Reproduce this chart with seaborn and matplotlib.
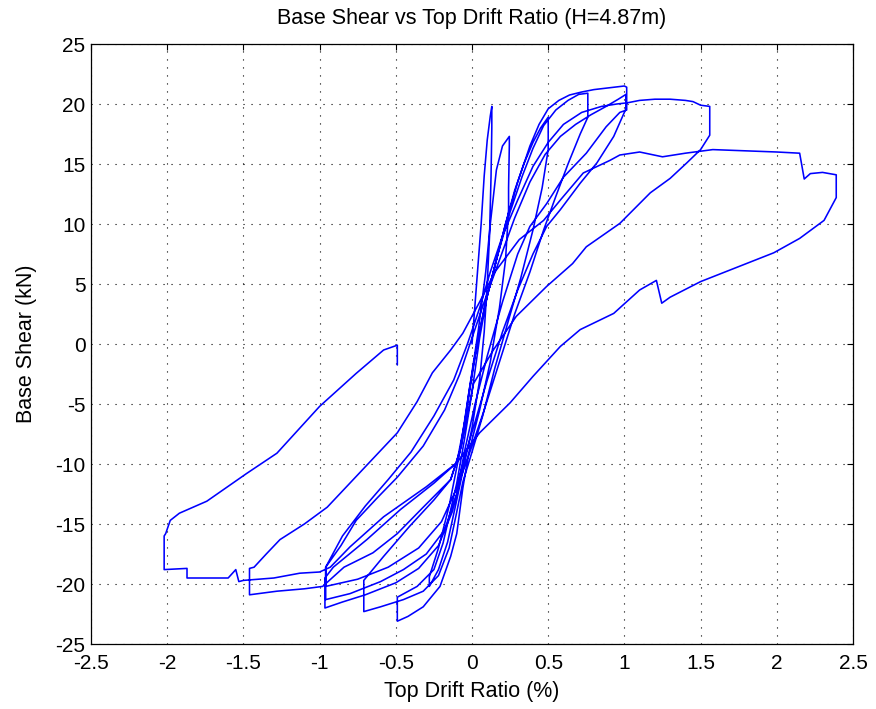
import numpy as np
import pandas as pd
import seaborn as sns
import matplotlib
matplotlib.use('Agg')
import matplotlib.pyplot as plt

# hysteresis path (drift %, shear kN)
spike_loops = [
    (0.00, 0.0), (0.03, 5.0), (0.06, 10.0), (0.08, 14.0), (0.10, 17.0), (0.12, 19.0), (0.13, 19.8),
    (0.13, 18.0), (0.125, 14.0), (0.115, 9.0), (0.10, 5.0), (0.08, 1.0), (0.05, -3.0), (0.0, -7.0), (-0.05, -10.0),
    (-0.10, -13.0), (-0.16, -16.5), (-0.22, -18.8), (-0.28, -20.2), (-0.28, -19.4),
    (-0.22, -17.0), (-0.15, -13.5), (-0.08, -9.0), (-0.02, -4.0), (0.04, 1.0), (0.09, 6.0), (0.12, 10.0),
    (0.16, 14.5), (0.20, 16.5), (0.245, 17.3),
    (0.245, 16.6), (0.24, 13.0), (0.24, 11.2), (0.22, 7.0), (0.18, 3.0), (0.12, -1.5), (0.05, -5.5), (-0.02, -9.0),
]
loops_050 = [
    (-0.06, -12.0), (-0.10, -15.8), (-0.14, -17.7), (-0.21, -20.2), (-0.32, -21.9), (-0.42, -22.7), (-0.49, -23.1),
    (-0.49, -21.1), (-0.36, -20.2), (-0.25, -18.8), (-0.19, -16.6), (-0.14, -13.8), (-0.10, -11.6), (-0.05, -8.0),
    (0.0, -4.0), (0.05, 0.5), (0.10, 4.0),
    (0.16, 7.0), (0.22, 10.0), (0.28, 12.8), (0.34, 15.0), (0.40, 16.8), (0.45, 18.0), (0.50, 18.9),
    (0.50, 16.2), (0.46, 13.0), (0.40, 9.5), (0.32, 5.5), (0.24, 2.0), (0.15, -2.0), (0.07, -6.0), (0.0, -9.0), (-0.06, -11.5),
]
loops_075 = [
    (-0.10, -14.0), (-0.15, -17.0), (-0.22, -19.3), (-0.32, -20.6), (-0.45, -21.3), (-0.60, -21.9), (-0.71, -22.3),
    (-0.71, -19.7), (-0.58, -17.7), (-0.41, -15.2), (-0.25, -13.0), (-0.14, -11.3), (-0.07, -8.5), (-0.02, -4.0),
    (0.04, 0.5), (0.10, 4.0),
    (0.17, 7.5), (0.25, 11.0), (0.33, 14.0), (0.40, 16.3), (0.47, 18.2), (0.55, 19.5), (0.63, 20.3), (0.70, 20.8), (0.76, 20.9),
    (0.76, 18.9), (0.71, 17.5), (0.63, 15.0), (0.55, 12.3), (0.47, 9.5), (0.38, 6.0), (0.28, 2.5), (0.18, -1.5),
    (0.08, -5.5), (0.0, -8.5), (-0.07, -11.0),
]
loops_100 = [
    (-0.13, -14.0), (-0.22, -16.8), (-0.35, -18.7), (-0.50, -19.9), (-0.70, -20.9), (-0.85, -21.5), (-0.965, -22.0),
    (-0.965, -19.5), (-0.91, -18.6), (-0.69, -16.3), (-0.47, -13.8), (-0.25, -11.6), (-0.10, -9.9), (-0.04, -6.0),
    (0.02, -1.0), (0.08, 3.0),
    (0.14, 6.0), (0.22, 10.0), (0.30, 13.5), (0.38, 16.5), (0.44, 18.3), (0.50, 19.6), (0.57, 20.3), (0.64, 20.75),
    (0.72, 21.0), (0.80, 21.2), (0.90, 21.35), (1.00, 21.5), (1.015, 21.4),
    (1.015, 19.5), (0.97, 19.3), (0.88, 18.1), (0.75, 15.9), (0.60, 13.9), (0.49, 11.7), (0.38, 9.8), (0.30, 7.5),
    (0.20, 3.5), (0.10, -1.0), (0.02, -5.0), (-0.05, -9.0),
    (-0.10, -12.5), (-0.18, -15.5), (-0.30, -17.5), (-0.45, -18.8), (-0.60, -19.8), (-0.80, -20.8), (-0.96, -21.3),
    (-0.96, -18.6), (-0.86, -16.8), (-0.76, -14.7), (-0.62, -12.8), (-0.49, -11.1), (-0.32, -8.5), (-0.18, -5.5),
    (-0.08, -2.5), (0.0, 0.5), (0.08, 3.5),
    (0.18, 7.0), (0.28, 10.5), (0.38, 13.5), (0.48, 15.8), (0.58, 17.3), (0.68, 18.3), (0.78, 19.1), (0.88, 19.8),
    (0.96, 20.4), (1.01, 20.8),
    (1.01, 19.6), (0.93, 17.3), (0.82, 15.1), (0.71, 13.4), (0.58, 11.2), (0.49, 9.8), (0.40, 7.5), (0.30, 4.5),
    (0.20, 1.0), (0.10, -3.0), (0.02, -6.5), (-0.05, -9.5),
    (-0.10, -12.0), (-0.20, -14.8), (-0.35, -17.0), (-0.55, -18.6), (-0.75, -19.6), (-0.96, -20.2),
    (-0.96, -18.6), (-0.85, -16.0), (-0.70, -13.5), (-0.55, -11.3), (-0.40, -9.0), (-0.25, -6.0), (-0.12, -3.0),
    (-0.03, 0.0), (0.05, 3.0),
]
loops_150 = [
    (0.12, 6.0), (0.20, 9.0), (0.30, 12.0), (0.40, 14.8), (0.50, 16.8), (0.60, 18.3), (0.72, 19.3), (0.85, 19.8),
    (0.95, 20.0), (1.02, 20.1), (1.10, 20.3), (1.20, 20.4), (1.30, 20.4), (1.40, 20.3), (1.45, 20.2), (1.50, 19.9), (1.56, 19.8),
    (1.56, 17.4), (1.50, 16.2), (1.41, 15.1), (1.30, 13.8), (1.17, 12.6), (0.97, 10.05), (0.75, 8.1), (0.66, 6.7),
    (0.49, 4.8), (0.29, 2.3), (0.14, -0.5), (0.01, -3.3), (-0.035, -6.3), (-0.08, -9.0),
    (-0.14, -11.3), (-0.32, -13.6), (-0.49, -15.8), (-0.65, -17.4), (-0.84, -18.6), (-0.98, -20.2), (-1.10, -20.4),
    (-1.28, -20.6), (-1.46, -20.9),
    (-1.46, -18.7), (-1.43, -18.6), (-1.35, -17.5), (-1.26, -16.3), (-1.10, -15.0), (-0.95, -13.6), (-0.72, -10.5),
    (-0.49, -7.4), (-0.36, -4.8), (-0.26, -2.4), (-0.14, -0.5), (-0.06, 0.9),
]
loops_200 = [
    (0.05, 3.5), (0.15, 6.0), (0.31, 8.7), (0.40, 9.6), (0.47, 10.3), (0.58, 12.0), (0.73, 14.25), (0.905, 15.3),
    (0.97, 15.75), (1.10, 16.0), (1.25, 15.6), (1.40, 15.9), (1.58, 16.2), (1.80, 16.1), (2.00, 16.0), (2.15, 15.9),
    (2.18, 13.75), (2.22, 14.2), (2.30, 14.3), (2.39, 14.1),
    (2.39, 12.2), (2.31, 10.3), (2.15, 8.8), (1.98, 7.6), (1.80, 6.7), (1.50, 5.2), (1.30, 3.9), (1.245, 3.4),
    (1.21, 5.3), (1.10, 4.5), (0.93, 2.55), (0.71, 1.2), (0.58, -0.2), (0.40, -2.7), (0.25, -4.9), (0.05, -7.4), (-0.10, -9.9),
    (-0.30, -11.9), (-0.58, -14.4), (-0.80, -16.9), (-0.93, -18.6), (-1.00, -19.0), (-1.13, -19.1), (-1.30, -19.5),
    (-1.50, -19.7), (-1.53, -19.8), (-1.55, -18.8), (-1.60, -19.5), (-1.80, -19.5), (-1.87, -19.5), (-1.87, -18.7), (-2.02, -18.8),
    (-2.02, -16.0), (-2.01, -15.8), (-1.98, -14.7), (-1.92, -14.1), (-1.74, -13.1), (-1.48, -10.8), (-1.28, -9.1),
    (-1.00, -5.2), (-0.76, -2.45), (-0.58, -0.5), (-0.49, -0.1), (-0.49, -1.75),
]

branches = [spike_loops, loops_050, loops_075, loops_100, loops_150, loops_200]
path = [p for b in branches for p in b]
df = pd.DataFrame(path, columns=['drift', 'shear'])

xticks = np.arange(-2.5, 2.51, 0.5)
yticks = np.arange(-25, 26, 5)
xticklabels = ['-2.5', '-2', '-1.5', '-1', '-0.5', '0', '0.5', '1', '1.5', '2', '2.5']
yticklabels = ['-25', '-20', '-15', '-10', '-5', '0', '5', '10', '15', '20', '25']

sns.set_style('white')
plt.rcParams['font.family'] = ['Liberation Sans', 'DejaVu Sans']
plt.rcParams['text.color'] = 'k'
plt.rcParams['axes.labelcolor'] = 'k'

fig = plt.figure(figsize=(8.76, 7.09), dpi=100)
ax = fig.add_axes([91/876, 1 - 644/709, 762/876, 600/709])

sns.lineplot(data=df, x='drift', y='shear', sort=False, estimator=None,
             color='#0000ff', linewidth=1.15, ax=ax)

ax.set_xlim(-2.5, 2.5)
ax.set_ylim(-25, 25)
ax.set_xticks(xticks)
ax.set_xticklabels(xticklabels)
ax.set_yticks(yticks)
ax.set_yticklabels(yticklabels)
ax.grid(True, color='k', linestyle=(0, (1, 6.2)), linewidth=0.8)
ax.tick_params(direction='in', length=4, width=0.8, top=True, right=True,
               labelsize=15, colors='k')
ax.tick_params(axis='x', pad=7)
ax.tick_params(axis='y', pad=4)
for s in ax.spines.values():
    s.set_color('k')
    s.set_linewidth(0.9)

ax.set_title('Base Shear vs Top Drift Ratio (H=4.87m)', fontsize=15.5, y=1.043, pad=0,
             va='center', color='k')
ax.set_xlabel('Top Drift Ratio (%)', fontsize=15.5, color='k')
ax.set_ylabel('Base Shear (kN)', fontsize=15.5, color='k')
ax.xaxis.set_label_coords(0.5, -0.08)
ax.xaxis.label.set_va('center')
ax.yaxis.set_label_coords(-0.085, 0.5)
ax.yaxis.label.set_va('center')

fig.savefig('out.png', dpi=100)
